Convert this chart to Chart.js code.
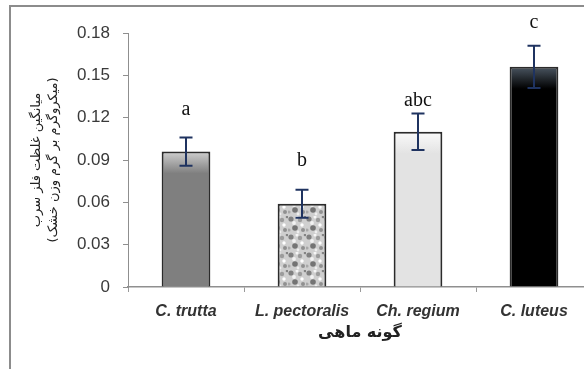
<!DOCTYPE html>
<html lang="fa">
<head>
    <meta charset="UTF-8">
    <title>Mean Pb concentration by fish species</title>
    <style>
        html, body {
            margin: 0;
            padding: 0;
            background: #fff;
        }
        body {
            width: 584px;
            height: 369px;
            overflow: hidden;
            position: relative;
        }
        #chart {
            position: absolute;
            left: 0;
            top: 0;
        }
        .frame {
            position: absolute;
            left: 9px;
            top: 5px;
            width: 620px;
            height: 380px;
            border-left: 2px solid #8c8c8c;
            border-top: 2px solid #8c8c8c;
            pointer-events: none;
        }
    </style>
</head>
<body>
    <canvas id="chart" width="600" height="369"></canvas>
    <div class="frame"></div>

    <script src="https://cdn.jsdelivr.net/npm/chart.js"></script>
    <script>
        // values
        const species = ['C. trutta', 'L. pectoralis', 'Ch. regium', 'C. luteus'];
        const meanPb = [0.096, 0.059, 0.110, 0.156];
        const errPb = [0.010, 0.010, 0.013, 0.015];
        const groupLetters = ['a', 'b', 'abc', 'c'];
        const yTicks = [0, 0.03, 0.06, 0.09, 0.12, 0.15, 0.18];

        const yTitle = ['میانگین غلظت فلز سرب', '(میکروگرم بر گرم وزن خشک)'];
        const xTitle = 'گونه ماهی';

        // speckled texture for the second bar
        function granite() {
            const c = document.createElement('canvas');
            c.width = 18; c.height = 18;
            const g = c.getContext('2d');
            g.fillStyle = '#cfcfcf';
            g.fillRect(0, 0, 18, 18);
            const spots = [
                [3, 3, 2.6, '#808080'], [12, 4, 2.2, '#9c9c9c'], [7, 12, 2.8, '#747474'],
                [15, 14, 2.0, '#909090'], [1, 14, 1.6, '#a8a8a8'], [9, 1, 1.5, '#f6f6f6'],
                [6, 7, 1.9, '#f2f2f2'], [14, 9, 1.7, '#ffffff'], [10, 16, 1.4, '#eeeeee'],
                [17, 1, 1.3, '#848484']
            ];
            spots.forEach(([x, y, r, col]) => {
                g.fillStyle = col;
                g.beginPath();
                g.arc(x, y, r, 0, Math.PI * 2);
                g.fill();
            });
            return g.createPattern(c, 'repeat');
        }

        const baseColors = ['#7f7f7f', null, '#e3e3e3', '#000000'];
        const glowColors = ['#cfcfcf', null, '#fafafa', '#4a5561'];

        function barFill(ctx) {
            const i = ctx.dataIndex;
            const chart = ctx.chart;
            if (i === 1) return granite();
            if (!chart.chartArea) return baseColors[i];
            const top = chart.scales.y.getPixelForValue(meanPb[i]);
            const grad = chart.ctx.createLinearGradient(0, top, 0, top + 22);
            grad.addColorStop(0, glowColors[i]);
            grad.addColorStop(1, baseColors[i]);
            return grad;
        }

        const errorBars = {
            id: 'errorBars',
            afterDatasetsDraw(chart, args, opts) {
                const { ctx, scales: { y } } = chart;
                const meta = chart.getDatasetMeta(0);
                ctx.save();
                meta.data.forEach((bar, i) => {
                    const cx = bar.x;
                    const top = y.getPixelForValue(meanPb[i] + errPb[i]);
                    const bot = y.getPixelForValue(meanPb[i] - errPb[i]);
                    ctx.strokeStyle = opts.color;
                    ctx.lineWidth = 2;
                    ctx.beginPath();
                    ctx.moveTo(cx, top); ctx.lineTo(cx, bot);
                    ctx.moveTo(cx - opts.cap, top); ctx.lineTo(cx + opts.cap, top);
                    ctx.moveTo(cx - opts.cap, bot); ctx.lineTo(cx + opts.cap, bot);
                    ctx.stroke();

                    ctx.fillStyle = '#111';
                    ctx.font = '20px "Liberation Serif", serif';
                    ctx.textAlign = 'center';
                    ctx.textBaseline = 'middle';
                    ctx.fillText(groupLetters[i], cx, top - opts.letterGap[i]);
                });
                ctx.restore();
            }
        };

        new Chart(document.getElementById('chart'), {
            type: 'bar',
            data: {
                labels: species,
                datasets: [{
                    data: meanPb,
                    backgroundColor: barFill,
                    borderColor: '#2b2b2b',
                    borderWidth: 2,
                    borderSkipped: 'bottom',
                    barPercentage: 0.42,
                    categoryPercentage: 1
                }]
            },
            options: {
                responsive: false,
                animation: false,
                layout: { padding: { left: 0, top: 33, right: 8, bottom: 0 } },
                plugins: {
                    legend: { display: false },
                    tooltip: { enabled: false },
                    errorBars: {
                        color: '#1f3360',
                        cap: 6.5,
                        letterGap: [28, 29, 13, 23]
                    }
                },
                scales: {
                    x: {
                        offset: true,
                        grid: {
                            offset: true,
                            drawOnChartArea: false,
                            drawTicks: true,
                            tickLength: 5,
                            color: '#9a9a9a'
                        },
                        border: { color: '#8f8f8f', width: 1.5 },
                        ticks: {
                            color: '#333',
                            padding: 10,
                            maxRotation: 0,
                            autoSkip: false,
                            font: { family: '"Liberation Sans", Arial, sans-serif', size: 16, style: 'italic', weight: 'bold' }
                        },
                        title: {
                            display: true,
                            text: xTitle,
                            color: '#222',
                            padding: { top: 0, bottom: 27 },
                            font: { family: '"DejaVu Sans", sans-serif', size: 16, weight: 'bold' }
                        },
                        afterFit: (scale) => { scale.height = 82; }
                    },
                    y: {
                        min: 0,
                        max: 0.18,
                        afterBuildTicks: (scale) => {
                            scale.ticks = yTicks.map(v => ({ value: v }));
                        },
                        grid: {
                            drawOnChartArea: false,
                            drawTicks: true,
                            tickLength: 5,
                            color: '#8f8f8f'
                        },
                        border: { color: '#8f8f8f', width: 1 },
                        ticks: {
                            color: '#3a3a3a',
                            padding: 13,
                            font: { family: '"Liberation Sans", Arial, sans-serif', size: 17 },
                            callback: (v) => v === 0 ? '0' : v.toFixed(2)
                        },
                        title: {
                            display: true,
                            text: yTitle,
                            color: '#222',
                            padding: { top: 28, bottom: 0 },
                            font: { family: '"DejaVu Sans", sans-serif', size: 13, lineHeight: 1.3 }
                        },
                        afterFit: (scale) => { scale.width = 128; }
                    }
                }
            },
            plugins: [errorBars]
        });
    </script>
</body>
</html>
